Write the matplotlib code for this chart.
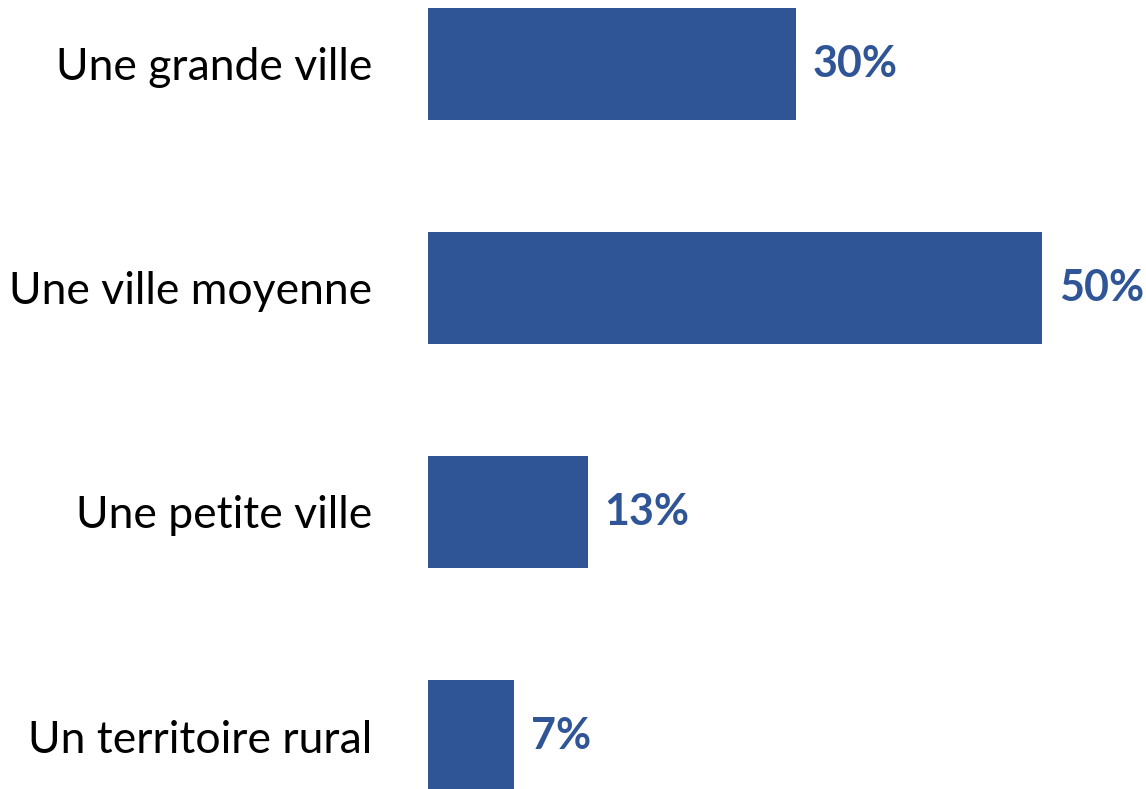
import matplotlib
matplotlib.use('Agg')
from matplotlib import pyplot as plt

# Chart data
categories = ['Une grande ville', 'Une ville moyenne', 'Une petite ville', 'Un territoire rural']
values = [30, 50, 13, 7]

bar_color = '#2F5597'

plt.rcParams['font.family'] = ['Lato', 'DejaVu Sans']

fig = plt.figure(figsize=(11.46, 7.89), dpi=100)
ax = fig.add_axes([428 / 1146, 0, 718 / 1146, 1])

ypos = list(range(len(categories)))
ax.barh(ypos, values, height=0.5, color=bar_color)

for y, v in zip(ypos, values):
    ax.annotate(str(v) + '%', (v, y), xytext=(12, 0), textcoords='offset points',
                va='center', ha='left', fontsize=31, fontweight='bold', color=bar_color)

ax.set_xlim(0, 58.47)
ax.set_ylim(3.2366, -0.2857)
ax.set_yticks(ypos)
ax.set_yticklabels(categories, fontsize=32)
ax.tick_params(axis='y', length=0, pad=40)
ax.set_xticks([])
for s in ax.spines.values():
    s.set_visible(False)

plt.savefig('out.png', dpi=100)
